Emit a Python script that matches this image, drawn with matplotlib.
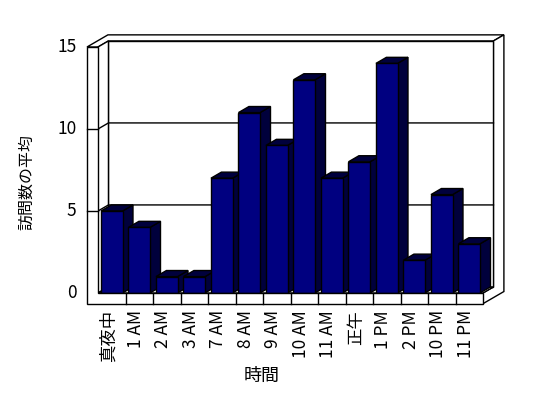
import matplotlib
matplotlib.use("Agg")
import matplotlib.pyplot as plt
from matplotlib.patches import Polygon, Rectangle

plt.rcParams['font.family'] = ['Noto Sans CJK JP', 'DejaVu Sans']

hours = ['真夜中', '1 AM', '2 AM', '3 AM', '7 AM', '8 AM', '9 AM',
         '10 AM', '11 AM', '正午', '1 PM', '2 PM', '10 PM', '11 PM']
visits = [5, 4, 1, 1, 7, 11, 9, 13, 7, 8, 14, 2, 6, 3]
yticks = [0, 5, 10, 15]

front = '#000080'
shade = '#00003c'

fig = plt.figure(figsize=(5.48, 3.98), dpi=100)
# front plane of the 3d box: x 98..483 px, y 293..47 px
ax = fig.add_axes([98 / 548, 105 / 398, 385 / 548, 246 / 398])
n = len(hours)
x0, x1 = -0.5, n - 0.5
ymax = 15
ax.set_xlim(x0, x1)
ax.set_ylim(0, ymax)
ax.axis('off')

DX, DY = 0.38, 0.37      # depth offset in data units
WT = 0.4                 # left wall thickness
FB = -0.65               # floor bottom
w = 0.785                # bar width


def poly(pts, fc='white', z=1):
    ax.add_patch(Polygon(pts, closed=True, fc=fc, ec='black', lw=1,
                         clip_on=False, zorder=z, joinstyle='miter'))


# back wall top slab and right side
poly([(x0 - WT, ymax), (x0, ymax), (x0 + DX, ymax + DY), (x1 + DX, ymax + DY),
      (x1 + 2 * DX, ymax + 2 * DY), (x0 - WT + 2 * DX, ymax + 2 * DY)])
poly([(x1, 0), (x1 + DX, DY), (x1 + DX, ymax + DY), (x1 + 2 * DX, ymax + 2 * DY),
      (x1 + 2 * DX, FB + 2 * DY), (x1, FB)])
# back wall face
poly([(x0 + DX, DY), (x1 + DX, DY), (x1 + DX, ymax + DY), (x0 + DX, ymax + DY)])
# left wall inner face
poly([(x0, 0), (x0 + DX, DY), (x0 + DX, ymax + DY), (x0, ymax)])
# floor top
poly([(x0, 0), (x1, 0), (x1 + DX, DY), (x0 + DX, DY)])

# gridlines
for v in yticks[1:-1]:
    ax.plot([x0, x0 + DX, x1 + DX], [v, v + DY, v + DY], color='black',
            lw=1, clip_on=False, zorder=2)
    ax.plot([x0 - WT, x0], [v, v], color='black', lw=1, clip_on=False, zorder=6)

# bars
for i, v in enumerate(visits):
    l, r = i - w / 2, i + w / 2
    poly([(r, 0), (r, v), (r + DX, v + DY), (r + DX, DY)], fc=shade, z=3 + i * 0.01)
    poly([(l, v), (r, v), (r + DX, v + DY), (l + DX, v + DY)], fc=shade, z=3 + i * 0.01)
    ax.add_patch(Rectangle((l, 0), w, v, fc=front, ec='black', lw=1,
                           clip_on=False, zorder=3 + i * 0.01 + 0.005))

# left wall front + floor front
poly([(x0 - WT, ymax), (x0, ymax), (x0, 0), (x1, 0), (x1, FB), (x0 - WT, FB)], z=5)
for i in range(n - 1):
    ax.plot([i + 0.5, i + 0.5], [0, FB], color='black', lw=1, clip_on=False, zorder=6)

# tick labels
for v in yticks:
    ax.text(x0 - WT - 0.38, v, str(v), ha='right', va='center', fontsize=12.5)
for i, h in enumerate(hours):
    ax.text(i - 0.12, FB - 0.4, h, rotation=90, ha='center', va='top', fontsize=12.5)

fig.text(27 / 548, 1 - 182 / 398, '訪問数の平均', rotation=90,
         ha='center', va='center', fontsize=11.5)
fig.text(262 / 548, 1 - 376 / 398, '時間', ha='center', va='center', fontsize=13)

fig.savefig('out.png', dpi=100)
